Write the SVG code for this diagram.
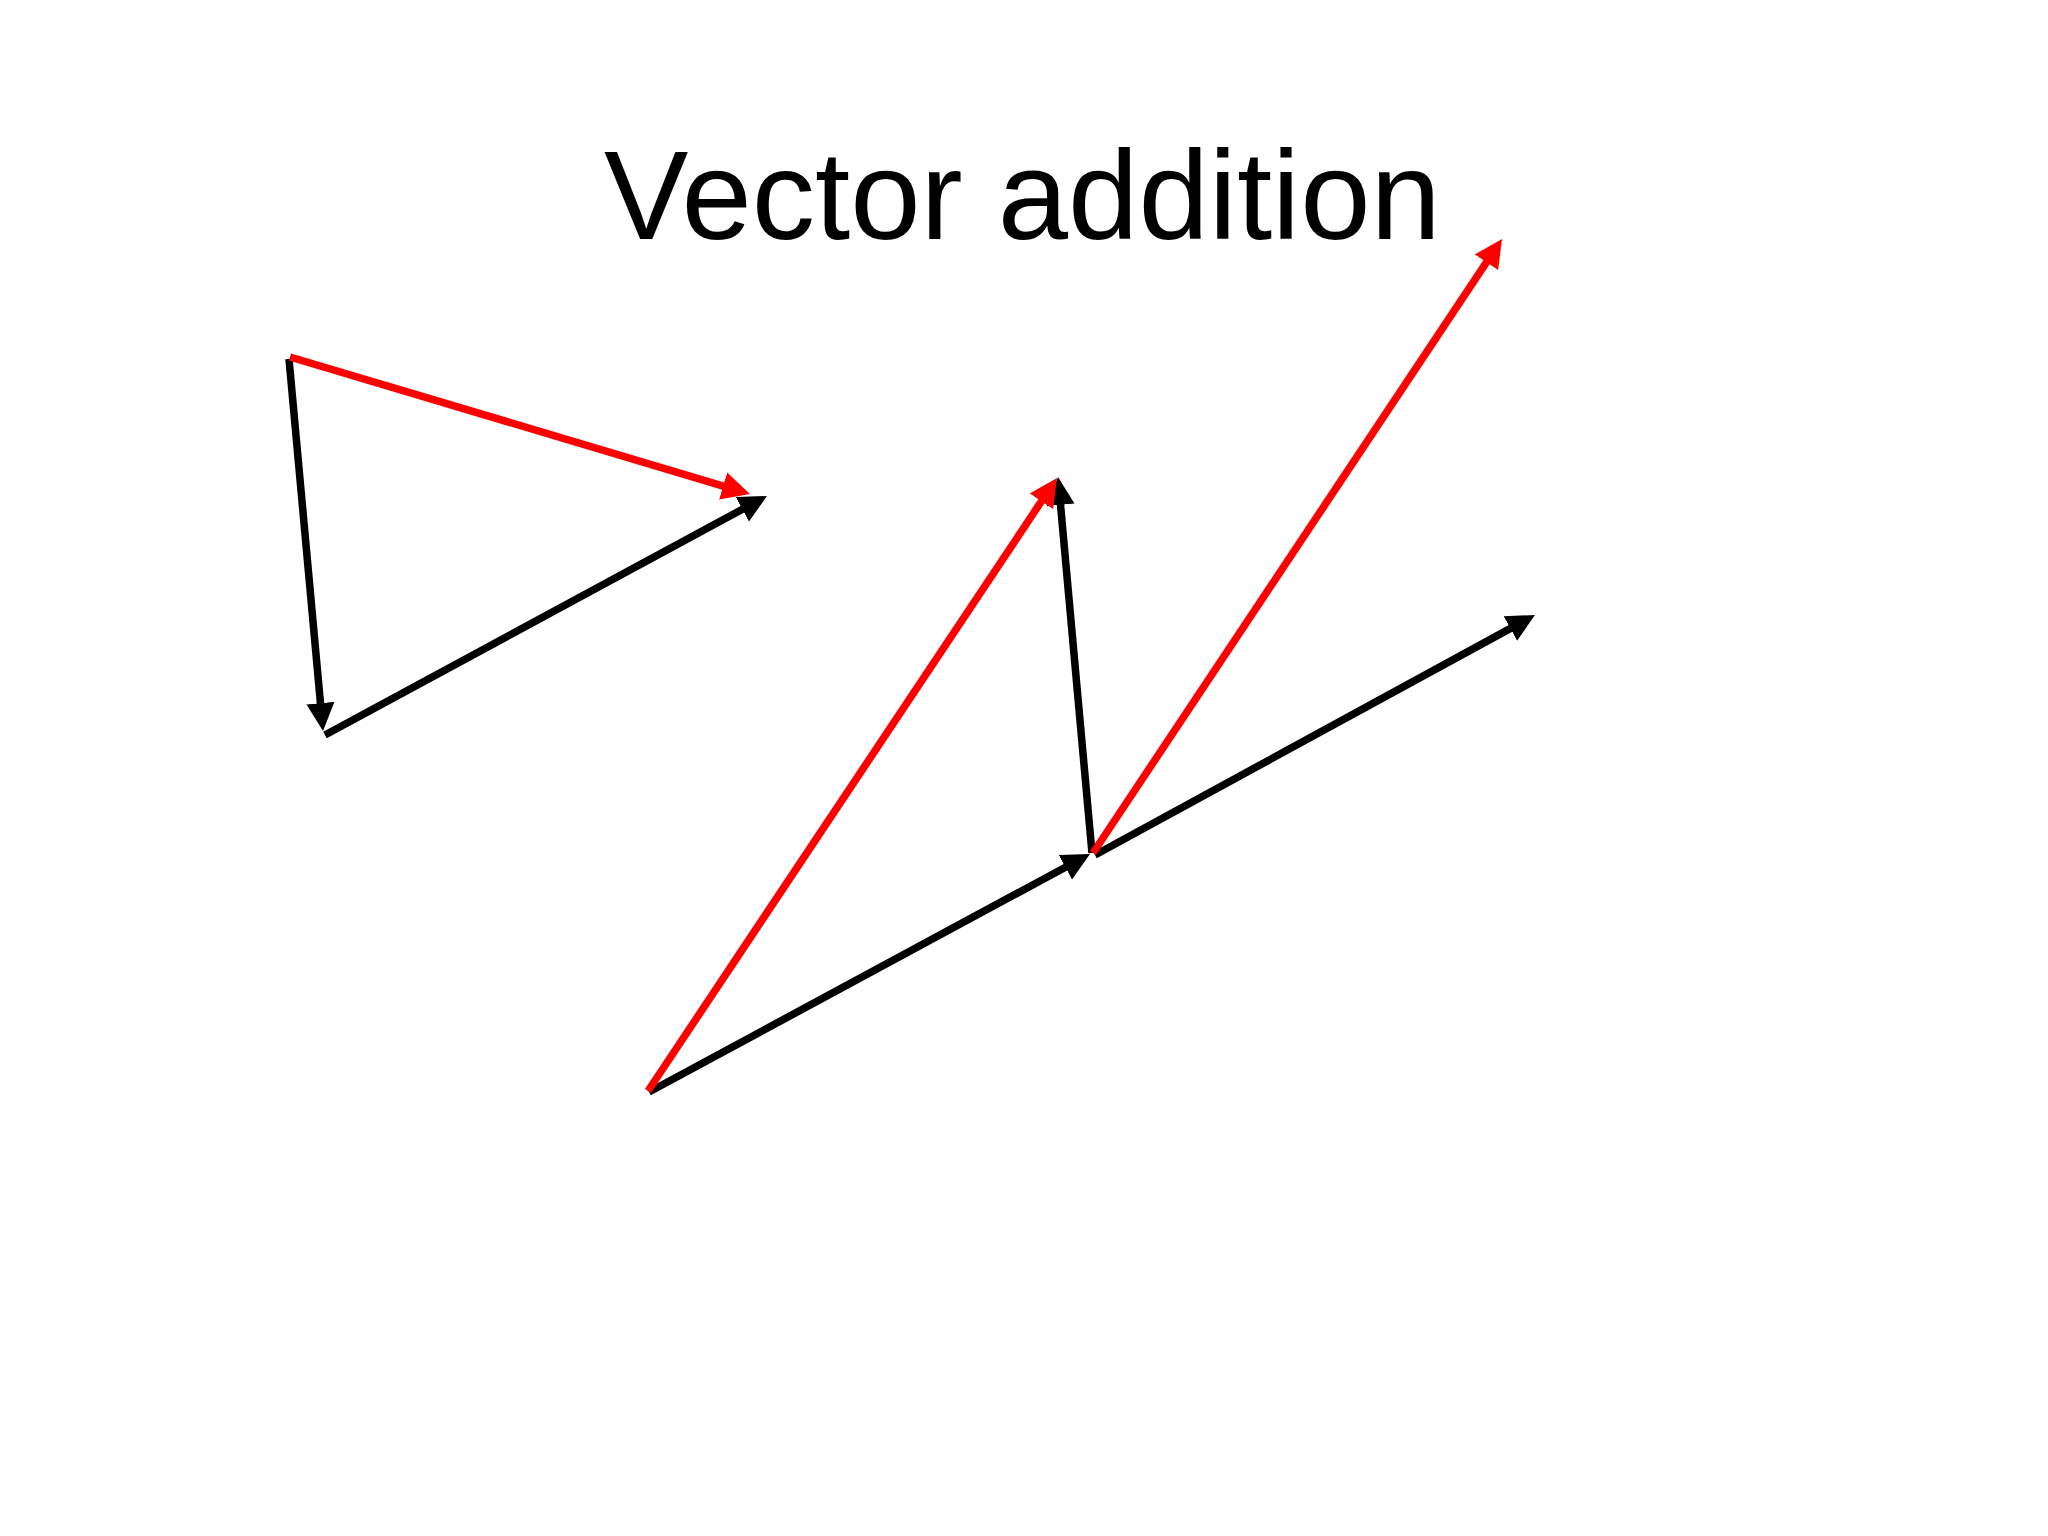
<svg xmlns="http://www.w3.org/2000/svg" width="2048" height="1536" viewBox="0 0 2048 1536">
  <style>
    .title { font-family: "Liberation Sans", Arial, sans-serif; font-size: 126.5px; fill: #000; }
    .blk { stroke: #000; stroke-width: 7.5; fill: none; stroke-linecap: butt; marker-end: url(#headBlack); }
    .red { stroke: #FF0000; stroke-width: 7.5; fill: none; stroke-linecap: butt; marker-end: url(#headRed); }
  </style>
  <defs>
    <marker id="headBlack" markerUnits="userSpaceOnUse" markerWidth="30" markerHeight="30" viewBox="0 0 30 30" refX="8" refY="15" orient="auto">
      <path d="M0,1 L28,15 L0,29 Z" fill="#000"/>
    </marker>
    <marker id="headRed" markerUnits="userSpaceOnUse" markerWidth="30" markerHeight="30" viewBox="0 0 30 30" refX="8" refY="15" orient="auto">
      <path d="M0,1 L28,15 L0,29 Z" fill="#FF0000"/>
    </marker>
  </defs>
  <rect x="0" y="0" width="2048" height="1536" fill="#FFFFFF"/>
  <g id="title">
    <text class="title" x="604" y="239">Vector addition</text>
  </g>
  <g id="connectors">
    <!-- left triangle -->
    <line id="leftA" class="blk" x1="289" y1="359" x2="321.2" y2="711.1"/>
    <line id="leftB" class="blk" x1="325" y1="735" x2="749.4" y2="505.5"/>
    <line id="leftSum" class="red" x1="290" y1="357" x2="730.8" y2="488.3"/>
    <!-- middle triangle -->
    <line id="midB" class="blk" x1="649" y1="1092" x2="1072.4" y2="863.5"/>
    <line id="midNegA" class="blk" x1="1092" y1="853" x2="1059.8" y2="496.9"/>
    <line id="midDiff" class="red" x1="648" y1="1091" x2="1045.9" y2="494.6"/>
    <!-- right pair -->
    <line id="rightB" class="blk" x1="1095" y1="855" x2="1517.4" y2="624.6"/>
    <line id="rightDiff" class="red" x1="1093" y1="853" x2="1490.9" y2="255.6"/>
  </g>
</svg>
